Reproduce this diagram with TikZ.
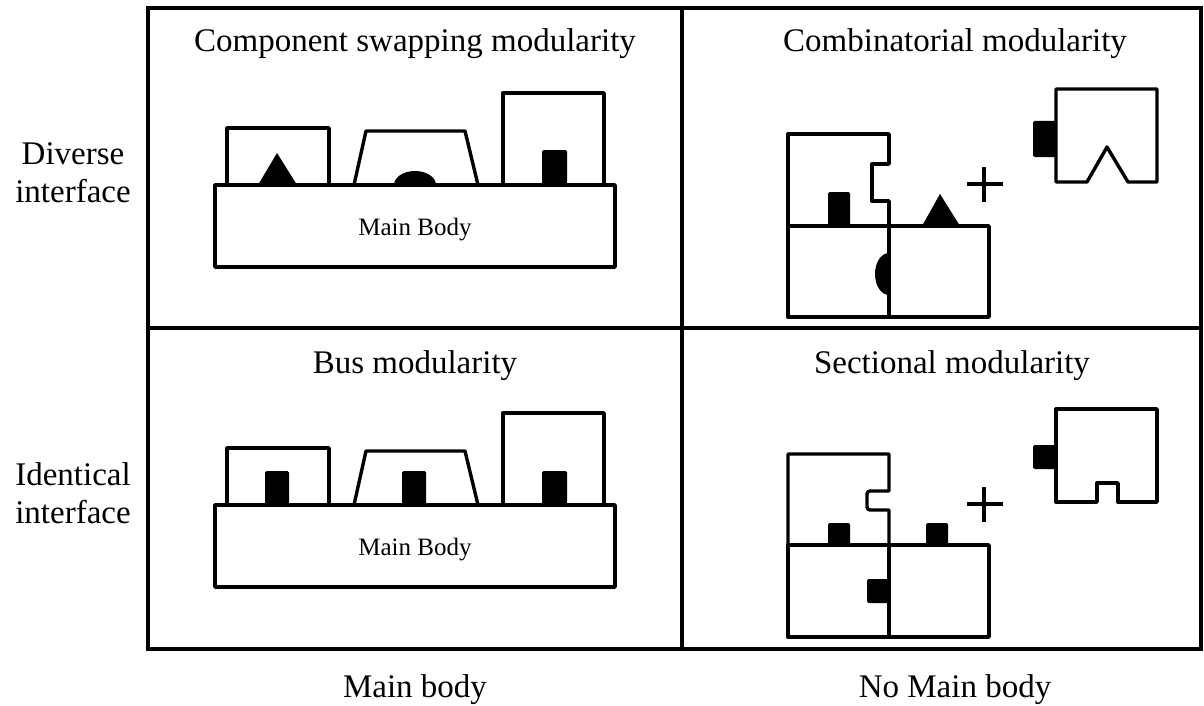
\documentclass[tikz,border=0pt]{standalone}
\usepackage{fontspec}
\setmainfont{Liberation Serif}
\tikzset{
  part/.style={line width=3.4pt, line join=round},
  knob/.style={fill=black, rounded corners=1.5pt},
  grid/.style={line width=3.8pt},
  head/.style={font=\fontsize{33}{38}\selectfont, anchor=base},
  small/.style={font=\fontsize{25}{30}\selectfont, anchor=base},
}
\begin{document}
\begin{tikzpicture}[x=1pt,y=-1pt]
  \useasboundingbox (0,0) rectangle (1204,706);
  % the four cells
  \draw[grid] (148,8) rectangle (1201,649);
  \draw[grid] (682,8) -- (682,649);
  \draw[grid] (148,328) -- (1201,328);
  % texts
  \draw
    (415,52) node[head] (swap){Component swapping modularity}
    (955,52) node[head] (comb){Combinatorial modularity}
    (415,373) node[head] (bus){Bus modularity}
    (952,373) node[head] (sect){Sectional modularity}
    (415,697) node[head] (mainbody){Main body}
    (955,697) node[head] (nomain){No Main body}
    (73,173) node[head,anchor=center,align=center] (diverse){Diverse\\interface}
    (73,493) node[head,anchor=center,align=center] (ident){Identical\\interface};
  % component swapping
  \begin{scope}
    \draw[part] (215,185) rectangle (615,267);
    \node[small] (body1) at (415,235) {Main Body};
    \draw[part] (227,185) -- (227,128) -- (329,128) -- (329,185);
    \draw[part] (354,185) -- (366,131) -- (465,131) -- (478,185);
    \draw[part] (503,185) -- (503,93) -- (604,93) -- (604,185);
    \fill (258,185) -- (277,153) -- (297,185) -- cycle;
    \fill (394,185) arc[start angle=180, end angle=0, x radius=21pt, y radius=14pt] -- cycle;
    \fill[knob] (542,150) rectangle (567,185);
  \end{scope}
  % bus
  \begin{scope}[shift={(0,320)}]
    \draw[part] (215,185) rectangle (615,267);
    \node[small] (body2) at (415,235) {Main Body};
    \draw[part] (227,185) -- (227,128) -- (329,128) -- (329,185);
    \draw[part] (354,185) -- (366,131) -- (465,131) -- (478,185);
    \draw[part] (503,185) -- (503,93) -- (604,93) -- (604,185);
    \fill[knob] (265,151) rectangle (289,185);
    \fill[knob] (402,151) rectangle (426,185);
    \fill[knob] (542,151) rectangle (567,185);
  \end{scope}
  % combinatorial
  \begin{scope}
    \draw[part] (788,226) -- (788,134) -- (889,134) -- (889,164) -- (872,164)
      -- (872,201) -- (889,201) -- (889,226);
    \draw[part] (788,226) rectangle (889,317);
    \draw[part] (889,226) rectangle (989,317);
    \fill[knob] (828,192) rectangle (850,226);
    \fill (889,253) arc[start angle=90, end angle=270, x radius=14pt, y radius=21pt] -- cycle;
    \fill (922,226) -- (940,194) -- (960,226) -- cycle;
    \draw[part] (967,184) -- (1003,184) (984,167) -- (984,202);
    \draw[part] (1056,182) -- (1056,89) -- (1157,89) -- (1157,182) -- (1128,182)
      -- (1107,147) -- (1087,182) -- cycle;
    \fill[knob] (1033,121) rectangle (1056,157);
  \end{scope}
  % sectional
  \begin{scope}[shift={(0,320)}]
    \draw[part] (788,225) -- (788,134) -- (889,134) -- (889,171)
      {[rounded corners=3pt] -- (867,171) -- (867,190)} -- (889,190) -- (889,225);
    \draw[part] (788,225) rectangle (889,317);
    \draw[part] (889,225) rectangle (989,317);
    \fill[knob] (828,203) rectangle (850,225);
    \fill[knob] (926,203) rectangle (948,225);
    \fill[knob] (867,259) rectangle (889,283);
    \draw[part] (967,184) -- (1003,184) (984,167) -- (984,202);
    \draw[part] (1056,182) -- (1056,89) -- (1157,89) -- (1157,182) -- (1118,182)
      -- (1118,163) -- (1097,163) -- (1097,182) -- cycle;
    \fill[knob] (1033,125) rectangle (1056,149);
  \end{scope}
\end{tikzpicture}
\end{document}
